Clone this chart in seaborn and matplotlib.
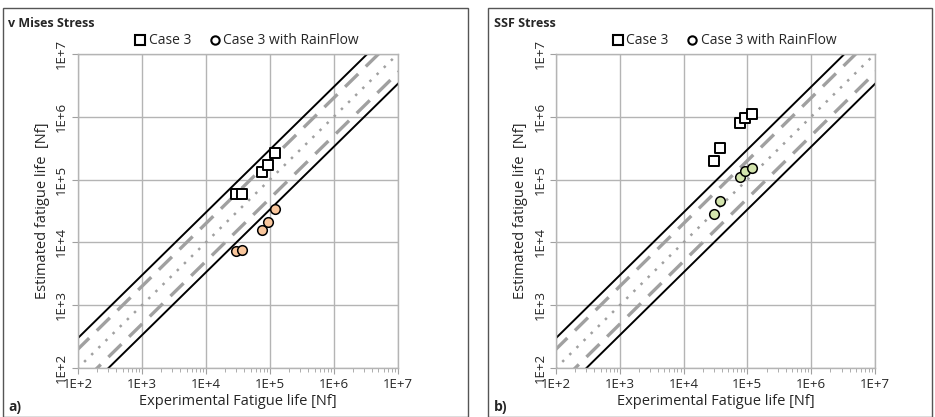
import numpy as np
import pandas as pd
import matplotlib
matplotlib.use('Agg')
import matplotlib.pyplot as plt
import matplotlib.ticker as mticker
from matplotlib.lines import Line2D
from matplotlib.patches import Rectangle
import seaborn as sns

# Experimental lives (same for both panels)
exp_life = [3.0e4, 3.7e4, 7.6e4, 9.2e4, 1.2e5]

# v Mises stress estimates
vm_case3 = [6.0e4, 6.0e4, 1.3e5, 1.7e5, 2.7e5]
vm_rainflow = [7.3e3, 7.6e3, 1.6e4, 2.1e4, 3.4e4]

# SSF stress estimates
ssf_case3 = [2.0e5, 3.2e5, 7.9e5, 9.5e5, 1.1e6]
ssf_rainflow = [2.8e4, 4.6e4, 1.1e5, 1.35e5, 1.55e5]

# scatter bands: factor 1 (dotted), 2 (dashed), 3 (solid)
band_factors = [1, 2, 3]
axis_range = [1e2, 1e7]
tick_values = [1e2, 1e3, 1e4, 1e5, 1e6, 1e7]
tick_labels = ['1E+2', '1E+3', '1E+4', '1E+5', '1E+6', '1E+7']

panels = [
    ('v Mises Stress', 'a)', vm_case3, vm_rainflow, '#f9c69c'),
    ('SSF Stress', 'b)', ssf_case3, ssf_rainflow, '#d3e4ad'),
]

sns.set_style('white')
plt.rcParams['font.family'] = ['Open Sans', 'DejaVu Sans']

fig = plt.figure(figsize=(9.35, 4.17), dpi=100)

ax_rects = [[0.0834, 0.1175, 0.342, 0.753], [0.5947, 0.1175, 0.341, 0.753]]
frame_rects = [[0.003, 0.0, 0.497, 0.981], [0.522, 0.0, 0.475, 0.981]]

for (title, tag, case3, rain, face), rect, frect in zip(panels, ax_rects, frame_rects):
    fig.patches.append(Rectangle((frect[0], frect[1]), frect[2], frect[3],
                                 transform=fig.transFigure, fill=False,
                                 edgecolor='#555555', linewidth=1.0))
    ax = fig.add_axes(rect)

    lo, hi = np.array(axis_range)
    xs = np.array([lo / 10, hi * 10])
    styles = {1: dict(color='#a0a0a0', linestyle=(0, (1, 3)), linewidth=1.8),
              2: dict(color='#a0a0a0', linestyle=(0, (5.5, 3.2)), linewidth=2.4),
              3: dict(color='black', linestyle='-', linewidth=1.4)}
    for f in band_factors:
        if f == 1:
            ax.plot(xs, xs, **styles[f], zorder=2)
        else:
            ax.plot(xs, xs * f, **styles[f], zorder=2)
            ax.plot(xs, xs / f, **styles[f], zorder=2)

    df_sq = pd.DataFrame({'exp': exp_life, 'est': case3})
    df_ci = pd.DataFrame({'exp': exp_life, 'est': rain})
    sns.scatterplot(data=df_sq, x='exp', y='est', marker='s', s=55,
                    facecolor='white', edgecolor='black', linewidth=1.4,
                    ax=ax, zorder=4)
    sns.scatterplot(data=df_ci, x='exp', y='est', marker='o', s=48,
                    facecolor=face, edgecolor='black', linewidth=1.1,
                    ax=ax, zorder=4)

    ax.set_xscale('log')
    ax.set_yscale('log')
    ax.set_xlim(axis_range)
    ax.set_ylim(axis_range)
    ax.set_xticks(tick_values)
    ax.set_xticklabels(tick_labels)
    ax.set_yticks(tick_values)
    ax.set_yticklabels(tick_labels, rotation=90, va='center')
    ax.xaxis.set_minor_locator(mticker.LogLocator(base=10, subs=np.arange(2, 10)))
    ax.xaxis.set_minor_formatter(mticker.NullFormatter())
    ax.yaxis.set_minor_locator(mticker.NullLocator())
    ax.tick_params(axis='x', which='major', direction='out', length=4,
                   color='#a0a0a0', labelsize=9.5, pad=3, bottom=True)
    ax.tick_params(axis='x', which='minor', direction='out', length=3,
                   color='#a0a0a0', bottom=True)
    ax.tick_params(axis='y', which='major', direction='out', length=4,
                   color='#a0a0a0', labelsize=9.5, pad=3, left=True)
    ax.grid(True, which='major', color='#b4b4b4', linewidth=1.0)
    for sp in ax.spines.values():
        sp.set_color('#b4b4b4')
        sp.set_linewidth(1.0)

    ax.set_xlabel('Experimental Fatigue life [Nf]', fontsize=10.5, labelpad=2)
    ax.set_ylabel('Estimated fatigue life  [Nf]', fontsize=10.5, labelpad=4)

    fig.text(frect[0] + 0.006, 0.943, title, fontsize=9, fontweight='bold',
             ha='left', va='center')
    fig.text(frect[0] + 0.006, 0.025, tag, fontsize=10, fontweight='bold',
             ha='left', va='center')

    handles = [Line2D([], [], marker='s', linestyle='none', markersize=6.5,
                      markerfacecolor='white', markeredgecolor='black',
                      markeredgewidth=1.5, label='Case 3'),
               Line2D([], [], marker='o', linestyle='none', markersize=6,
                      markerfacecolor='white', markeredgecolor='black',
                      markeredgewidth=1.5, label='Case 3 with RainFlow')]
    ax.legend(handles=handles, loc='lower center', bbox_to_anchor=(0.53, 1.0),
              ncol=2, frameon=False, fontsize=10, handlelength=0.6,
              handletextpad=0.3, columnspacing=1.4, borderaxespad=0.0)

fig.savefig('out.png', dpi=100)
